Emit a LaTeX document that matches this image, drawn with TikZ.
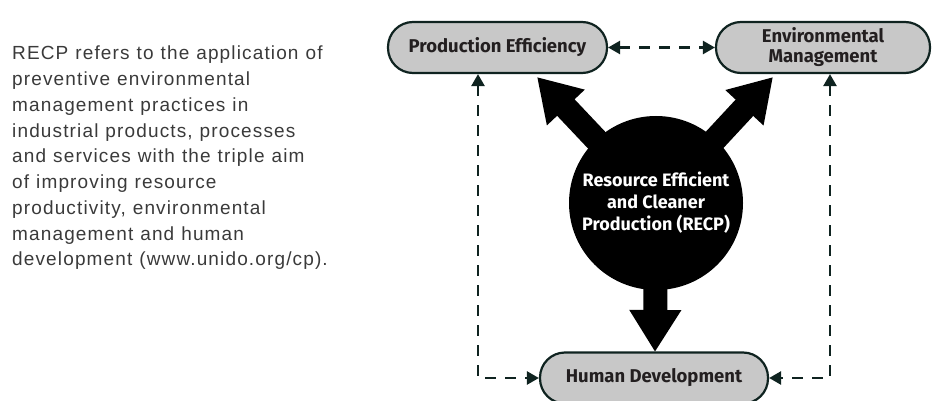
\documentclass[tikz,border=0pt]{standalone}
\usepackage{fontspec}
\setmainfont{Liberation Sans}[LetterSpace=6]
\newfontfamily\boxfont{Fira Sans}
\usepackage{xcolor}
\usetikzlibrary{arrows.meta,backgrounds}
\definecolor{boxgray}{HTML}{C8C8C8}
\definecolor{darkline}{HTML}{0F2320}
\definecolor{boxtext}{HTML}{231F20}
\definecolor{bodytext}{HTML}{3A3A3A}
\newcommand\introfont{\fontsize{19}{25.75}\selectfont\spaceskip=7pt\relax}
\tikzset{
  goalbox/.style={draw=darkline,fill=boxgray,line width=2.2pt,rectangle,
    rounded corners=25pt,minimum height=51pt,text=boxtext,align=center,
    font=\boxfont\bfseries\fontsize{18.5}{20}\selectfont},
  hub/.style={circle,fill=black,minimum size=174pt,inner sep=0pt,text=white,
    align=center,font=\boxfont\bfseries\fontsize{18}{22}\selectfont},
  bigarrow/.style={line width=24pt,-{Triangle[length=42pt,width=49pt]}},
  linkarrow/.style={darkline,line width=2.5pt,dash pattern=on 11pt off 9pt,
    {Triangle[length=12pt,width=13pt]}-{Triangle[length=12pt,width=13pt]}}
}
\begin{document}
\begin{tikzpicture}[x=1pt,y=-1pt]
			\useasboundingbox (0,0) rectangle (934,401);
			% \draw[help lines,step=50] (0,0) grid (934,401);
			\node[anchor=north west,align=left,text=bodytext,inner sep=0pt,
				font=\introfont] (intro) at (12,46)
				{RECP refers to the application of\\
				preventive environmental\\
				management practices in\\
				industrial products, processes\\
				and services with the triple aim\\
				of improving resource\\
				productivity, environmental\\
				management and human\\
				development (www.unido.org/cp).};
			\coordinate (tipPE) at (537,77);
			\coordinate (tipEM) at (773,77);
			\coordinate (tipHD) at (655,352);
			\node[hub] (recp) at (656,203) {Resource Efficient\\and Cleaner\\Production (RECP)};
			\begin{pgfonlayer}{background}
				\foreach \x in {PE,EM,HD}{
					\draw[bigarrow] (recp.center) -- (tip\x);
				}
			\end{pgfonlayer}
			\node[goalbox,minimum width=219pt] (pe) at (497.5,47.5) {Production Efficiency};
			\node[goalbox,minimum width=214pt] (em) at (823,47.5) {Environmental\\Management};
			\node[goalbox,minimum width=228pt] (hd) at (654,378) {Human Development};
			\draw[linkarrow] (pe.east) -- (em.west);
			\draw[linkarrow] ([xshift=-19.5pt]pe.south) |- (hd.west);
			\draw[linkarrow] ([xshift=7pt]em.south) |- (hd.east);
		\end{tikzpicture}
\end{document}
